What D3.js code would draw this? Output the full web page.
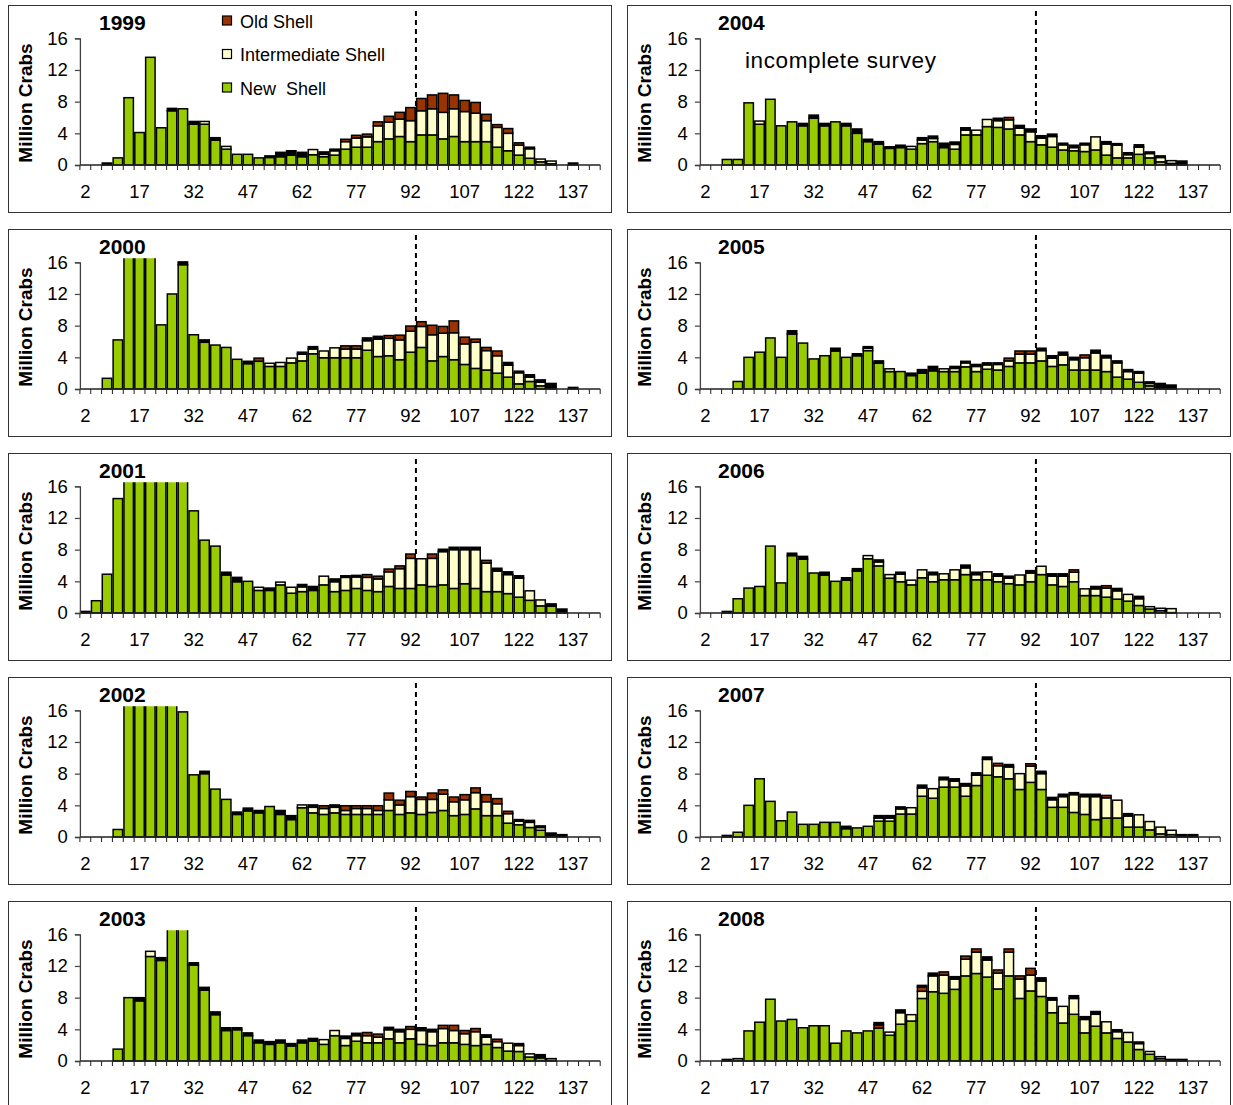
<!DOCTYPE html>
<html>
<head>
<meta charset="utf-8">
<script src="https://cdn.jsdelivr.net/npm/d3@7"></script>
<style>
  body { margin: 0; background: #fff; }
  svg { display: block; font-family: "Liberation Sans", Arial, sans-serif; }
</style>
</head>
<body>
<svg id="chart" width="1233" height="1105"></svg>
<script>
// Carapace-width classes (mm) and the labelled classes on the x axis
const sizeClasses = [2,5,8,11,14,17,20,23,26,29,32,35,38,41,44,47,50,53,56,59,62,65,68,71,74,77,80,83,86,89,92,95,98,101,104,107,110,113,116,119,122,125,128,131,134,137,140,143];
const sizeLabels = [2,17,32,47,62,77,92,107,122,137];
const yTicks = [0,4,8,12,16];
const yearsLeft = [1999,2000,2001,2002,2003];
const yearsRight = [2004,2005,2006,2007,2008];
const legalSize = 95;   // dashed reference line sits at the lower edge of this class

// Abundance (million crabs) by shell condition, one value per size class
const newShell1999 = [0,0,0,0.9,8.5,4.1,13.6,4.7,6.85,7.1, 5.15,5.15,3.15,2.0,1.35,1.35,0.9,0.95,1.05,1.25, 1.05,1.3,1.05,1.25,2.0,2.25,2.25,2.95,3.3,3.6, 2.95,3.8,3.8,3.3,3.6,2.95,2.95,2.95,2.25,1.8, 1.25,0.85,0.4,0.15,0,0,0,0];
const interShell1999 = [0,0,0,0,0,0,0,0,0,0, 0,0.35,0,0.35,0,0,0,0,0,0, 0,0.65,0.3,0.55,0.95,1.15,1.3,2.0,2.1,2.2, 2.65,3.05,3.3,3.35,3.5,3.8,3.6,2.65,2.5,2.2, 1.25,1.2,0.35,0.35,0,0,0,0];
const oldShell1999 = [0,0,0,0,0,0,0,0,0,0, 0,0,0,0,0,0,0,0,0,0, 0,0,0,0,0.3,0.35,0.35,0.5,0.75,0.85, 1.65,1.55,1.75,2.4,1.75,1.4,1.35,0.8,0.35,0.6, 0.3,0,0,0,0,0,0,0];
const veryOld1999 = [0,0,0.25,0,0,0,0,0,0.3,0, 0.35,0,0.3,0,0,0,0,0.2,0.55,0.55, 0.55,0,0.3,0.2,0,0,0,0,0,0, 0,0,0,0,0,0,0,0,0,0, 0,0.2,0,0,0,0.25,0,0];

const newShell2000 = [0,0,1.35,6.2,19,22,20,8.1,12.0,15.7, 6.85,5.9,5.55,5.25,3.75,3.2,3.5,2.85,2.85,3.3, 3.55,4.45,3.95,3.95,3.95,3.95,4.9,4.1,4.2,3.7, 4.65,5.25,3.55,4.1,3.7,3.1,2.6,2.4,2.0,1.5, 0.65,0.95,0.4,0,0,0,0,0];
const interShell2000 = [0,0,0,0,0,0,0,0,0,0, 0,0,0,0,0,0,0,0.4,0.5,0.6, 0.85,0.6,0.85,1.25,1.1,1.1,1.2,2.2,2.2,2.5, 2.65,2.65,3.3,2.95,3.4,2.6,3.3,2.45,2.2,1.5, 1.4,0.55,0.45,0,0,0,0,0];
const oldShell2000 = [0,0,0,0,0,0,0,0,0,0, 0,0,0,0,0,0,0.4,0,0,0, 0,0,0,0,0.4,0.4,0,0,0.35,0.6, 0.65,0.6,1.2,0.85,1.5,0.85,0.4,0.4,0.6,0, 0,0,0,0,0,0,0,0];
const veryOld2000 = [0,0,0,0,0,0,0,0,0,0.35, 0,0.3,0,0,0,0.3,0,0,0,0, 0.25,0.3,0,0,0,0,0.35,0.35,0,0, 0,0,0,0,0,0,0,0,0,0.35, 0.2,0.3,0.3,0.7,0,0.2,0,0];

const newShell2001 = [0,1.55,4.9,14.45,20,23,25,24,21,18, 12.9,9.2,8.45,4.8,3.95,4.0,2.85,2.85,3.55,2.5, 2.7,2.85,3.55,2.7,2.85,3.1,2.85,2.7,3.35,3.1, 3.1,3.55,3.35,3.55,3.1,3.7,3.1,2.7,2.7,2.45, 2.0,1.6,0.9,0.85,0,0,0,0];
const interShell2001 = [0,0,0,0,0,0,0,0,0,0, 0,0,0,0,0,0,0.4,0,0.35,0.75, 0.6,0,1.1,1.25,1.65,1.45,1.65,1.6,1.85,2.5, 3.8,3.3,3.55,4.2,4.9,4.3,4.9,3.6,2.6,2.4, 2.4,1.2,0.75,0,0,0,0,0];
const oldShell2001 = [0,0,0,0,0,0,0,0,0,0, 0,0,0,0,0,0,0,0,0,0, 0,0,0,0,0,0,0.35,0.35,0.35,0.35, 0.55,0,0.55,0,0,0,0,0.35,0,0, 0,0,0,0,0,0,0,0];
const veryOld2001 = [0.2,0,0,0,0,0,0,0,0,0, 0,0,0,0.35,0.55,0,0,0.3,0,0, 0.3,0.5,0,0.35,0.2,0.2,0,0,0,0, 0,0,0,0.3,0.3,0.3,0.3,0,0.35,0.35, 0.3,0,0,0.3,0.5,0,0,0];

const newShell2002 = [0,0,0,0.95,24,30,28,22,18,15.8, 7.85,8.0,6.05,4.75,2.85,3.3,3.05,3.85,2.85,2.2, 3.7,3.05,2.85,3.05,2.85,2.85,2.85,2.85,3.35,2.85, 3.05,2.85,3.1,3.35,2.7,2.85,3.55,2.7,2.7,1.75, 1.55,1.2,0.85,0,0,0,0,0];
const interShell2002 = [0,0,0,0,0,0,0,0,0,0, 0,0,0,0,0,0,0,0,0,0, 0.35,0.7,0.75,0.7,0.5,0.75,0.75,0.5,1.35,1.2, 2.05,1.9,1.65,2.05,1.75,1.85,2.05,1.75,1.5,1.2, 0.45,0.65,0.35,0,0,0,0,0];
const oldShell2002 = [0,0,0,0,0,0,0,0,0,0, 0,0,0,0,0,0,0,0,0,0, 0,0,0.35,0,0.6,0.35,0.35,0.6,0.85,0.6, 0.65,0.3,0.8,0.55,0.6,0.65,0.6,0.9,0.65,0.3, 0,0,0,0,0,0,0,0];
const veryOld2002 = [0,0,0,0,0,0,0,0,0,0, 0,0.3,0,0,0.3,0.35,0.3,0,0.5,0.5, 0,0.3,0,0.3,0,0,0,0,0,0, 0,0,0,0,0,0,0,0,0,0, 0.2,0.25,0.2,0.5,0.3,0,0,0];

const newShell2003 = [0,0,0,1.5,8.0,7.6,13.2,12.7,19,17.5, 12.1,8.95,5.85,3.85,3.95,3.2,2.3,2.1,2.3,1.9, 2.3,2.5,2.1,3.2,1.95,2.5,2.3,2.3,2.8,2.3, 2.8,2.1,1.95,2.3,2.3,2.1,1.95,2.1,1.7,1.25, 1.2,0.5,0.4,0.3,0,0,0,0];
const interShell2003 = [0,0,0,0,0,0,0.65,0,0,0, 0,0,0,0,0,0,0,0,0,0, 0,0,0.6,0.65,0.9,0.7,0.9,0.7,1.15,1.4, 1.2,1.75,1.75,1.8,1.55,1.35,1.75,0.9,0.75,1.0, 0.75,0.4,0,0,0,0,0,0];
const oldShell2003 = [0,0,0,0,0,0,0,0,0,0, 0,0,0,0,0,0,0,0,0,0, 0,0,0,0,0,0,0.4,0.4,0,0, 0.35,0,0,0.4,0.65,0.4,0.4,0,0.3,0, 0,0,0,0,0,0,0,0];
const veryOld2003 = [0,0,0,0,0,0.4,0,0.35,0,0, 0.3,0.35,0.35,0.35,0.25,0.35,0.35,0.35,0.35,0.3, 0.35,0.35,0,0,0.3,0.3,0,0,0.3,0.3, 0,0.35,0.3,0,0,0,0,0.3,0,0, 0.25,0,0.4,0,0,0,0,0];

const newShell2004 = [0,0,0.7,0.7,7.85,5.15,8.3,4.95,5.45,4.95, 5.9,4.95,5.45,4.95,4.0,2.95,2.65,2.1,2.2,2.0, 2.7,2.95,2.2,2.0,3.8,3.8,4.85,4.75,4.55,3.8, 2.95,2.55,2.25,1.9,1.8,1.7,1.9,1.25,0.9,0.9, 1.35,0.9,0.4,0.2,0,0,0,0];
const interShell2004 = [0,0,0,0,0,0.4,0,0,0,0, 0,0,0,0,0,0,0,0,0,0.35, 0.45,0.4,0,0.6,0.6,0.6,0.9,0.85,1.15,0.85, 1.25,0.85,1.35,0.65,0.4,0.85,1.65,1.4,1.6,0.4, 0.9,0.55,0.55,0.35,0,0,0,0];
const oldShell2004 = [0,0,0,0,0,0,0,0,0,0, 0,0,0,0,0,0,0,0,0,0, 0,0,0,0,0,0,0,0,0.3,0, 0,0,0,0,0,0,0,0,0,0, 0,0,0,0,0,0,0,0];
const veryOld2004 = [0,0,0,0,0,0,0,0,0,0.3, 0.4,0.3,0,0.3,0.55,0.3,0.3,0.2,0.3,0, 0.3,0.3,0.55,0.3,0.3,0,0,0.3,0,0.35, 0.35,0.3,0.3,0.2,0.3,0.2,0,0.3,0.2,0.25, 0.3,0.2,0.2,0,0.5,0,0,0];

const newShell2005 = [0,0,0,0.95,4.0,4.65,6.45,4.0,6.95,5.8, 3.8,4.2,4.8,4.0,4.2,4.85,3.25,2.2,2.2,1.7, 2.0,2.3,2.2,2.2,2.8,2.2,2.5,2.4,2.85,3.3, 3.3,3.55,2.85,3.05,2.4,2.4,2.4,2.2,1.5,1.25, 0.85,0.4,0,0,0,0,0,0];
const interShell2005 = [0,0,0,0,0,0,0,0,0,0, 0,0,0,0,0,0.3,0,0.35,0,0, 0,0,0.35,0.4,0.5,0.65,0.55,0.7,0.7,1.1, 1.1,1.3,1.05,1.25,1.3,1.55,2.15,1.75,1.8,0.95, 1.15,0.3,0,0,0,0,0,0];
const oldShell2005 = [0,0,0,0,0,0,0,0,0,0, 0,0,0,0,0,0,0,0,0,0, 0,0,0,0,0,0,0,0,0.35,0.4, 0.4,0,0,0,0,0.35,0,0,0,0, 0,0,0,0,0,0,0,0];
const veryOld2005 = [0,0,0,0,0,0,0,0,0.4,0, 0,0,0.35,0,0.25,0.2,0.3,0,0,0.3, 0.45,0.55,0,0.25,0.2,0.25,0.25,0.2,0,0, 0,0.3,0.3,0.35,0.3,0,0.35,0.3,0.25,0.25, 0.2,0.2,0.7,0.5,0,0,0,0];

const newShell2006 = [0,0,0,1.8,3.15,3.35,8.45,3.8,7.25,6.8, 5.05,4.8,4.0,4.15,5.3,6.85,5.95,4.4,3.95,3.55, 4.45,3.95,4.2,4.2,4.85,4.2,4.2,3.95,3.7,3.55, 3.95,4.85,3.55,3.35,3.95,2.2,2.2,2.0,1.75,1.5, 0.95,0.5,0.3,0.05,0,0,0,0];
const interShell2006 = [0,0,0,0,0,0,0,0,0,0, 0,0,0,0,0,0.4,0.5,0.45,0.95,0.6, 1.0,0.9,0.75,1.25,0.85,0.65,1.0,0.7,0.7,1.25, 1.1,1.05,1.1,1.3,1.2,0.85,0.85,1.15,1.05,0.85, 0.85,0.3,0.3,0.5,0,0,0,0];
const oldShell2006 = [0,0,0,0,0,0,0,0,0,0, 0,0,0,0,0,0,0,0,0,0, 0,0,0,0,0,0,0,0,0,0, 0,0,0,0,0.3,0,0,0.3,0,0, 0,0,0,0,0,0,0,0];
const veryOld2006 = [0,0,0.2,0,0,0,0,0,0.3,0.35, 0,0.35,0,0.3,0.3,0,0.25,0,0.25,0, 0,0.3,0,0,0.35,0.3,0,0.3,0.25,0, 0.3,0,0.3,0.3,0,0,0.3,0,0.3,0, 0.3,0,0,0,0,0,0,0];

const newShell2007 = [0,0,0,0.6,4.0,7.35,4.5,2.05,3.15,1.6, 1.6,1.85,1.85,1.05,1.15,1.35,2.0,2.0,2.9,2.9, 5.15,4.9,6.3,6.3,5.15,6.5,7.8,7.6,7.35,6.0, 6.9,6.0,3.75,3.75,3.1,2.85,2.2,2.4,2.4,1.25, 1.25,0.9,0.4,0.3,0,0,0,0];
const interShell2007 = [0,0,0,0,0,0,0,0,0,0, 0,0,0,0,0,0,0.4,0.4,0.65,0.8, 1.05,1.2,0.95,0.75,1.3,1.3,2.0,1.4,1.5,2.0, 2.05,2.0,0.95,1.35,2.25,2.25,2.9,2.55,2.25,1.4, 1.55,1.05,0.85,0.55,0,0,0,0];
const oldShell2007 = [0,0,0,0,0,0,0,0,0,0, 0,0,0,0,0,0,0,0,0,0, 0,0,0,0,0,0,0,0.3,0,0, 0.3,0,0,0,0,0,0,0.3,0,0, 0,0,0,0,0,0,0,0];
const veryOld2007 = [0,0,0.2,0,0,0,0,0,0,0, 0,0,0,0.3,0,0,0.3,0.3,0.25,0, 0.35,0,0.3,0.3,0.3,0.3,0.3,0,0.3,0, 0,0.3,0.3,0.3,0.25,0.3,0.3,0,0,0.3, 0,0,0,0,0.3,0.3,0,0];

const newShell2008 = [0,0,0,0.3,3.8,4.9,7.8,5.05,5.25,4.2, 4.45,4.45,2.25,3.8,3.55,3.8,4.15,3.25,4.65,5.05, 7.9,8.75,8.55,9.05,10.75,11.05,10.6,9.1,10.75,7.9, 8.85,8.15,6.1,4.8,5.9,3.55,4.4,3.55,2.85,2.4, 1.45,0.85,0.3,0,0,0,0,0];
const interShell2008 = [0,0,0,0,0,0,0,0,0,0, 0,0,0,0,0,0,0,0.4,1.45,0.8, 0.9,2.0,2.3,1.3,2.1,2.7,2.15,2.0,3.0,2.45, 2.0,1.95,1.6,2.1,2.0,1.7,1.5,1.4,0.85,1.2, 0.75,0.35,0.25,0,0,0,0,0];
const oldShell2008 = [0,0,0,0,0,0,0,0,0,0, 0,0,0,0,0,0,0.4,0,0,0, 0.55,0,0.4,0,0.4,0.4,0,0.4,0.4,0.4, 0.85,0,0,0,0,0,0,0,0,0, 0,0,0,0,0,0,0,0];
const veryOld2008 = [0,0,0.2,0,0,0,0,0,0,0, 0,0,0,0,0,0,0.3,0,0.35,0, 0.2,0.35,0,0.3,0,0,0.4,0,0,0, 0,0.4,0.3,0,0.35,0.35,0.35,0,0.25,0, 0.2,0,0,0.2,0.2,0,0,0];

// Lookup of the arrays above by year
const byYear = {
  1999: [newShell1999, interShell1999, oldShell1999, veryOld1999],
  2000: [newShell2000, interShell2000, oldShell2000, veryOld2000],
  2001: [newShell2001, interShell2001, oldShell2001, veryOld2001],
  2002: [newShell2002, interShell2002, oldShell2002, veryOld2002],
  2003: [newShell2003, interShell2003, oldShell2003, veryOld2003],
  2004: [newShell2004, interShell2004, oldShell2004, veryOld2004],
  2005: [newShell2005, interShell2005, oldShell2005, veryOld2005],
  2006: [newShell2006, interShell2006, oldShell2006, veryOld2006],
  2007: [newShell2007, interShell2007, oldShell2007, veryOld2007],
  2008: [newShell2008, interShell2008, oldShell2008, veryOld2008]
};

const keys = ["newShell", "interShell", "oldShell", "veryOld"];
const fills = { newShell: "#99CC00", interShell: "#FFFFCC", oldShell: "#993300", veryOld: "#000000" };
const legendItems = [["oldShell", "Old Shell"], ["interShell", "Intermediate Shell"], ["newShell", "New  Shell"]];

const svg = d3.select("#chart");

// Panel geometry
const colLeft = [8, 627];
const boxW = 603, boxH = 207, rowStep = 224, firstTop = 5;
const plotOffsetX = [71.9, 72.9];
const plotW = 520.3;

function drawPanel(year, col, row) {
  const left = colLeft[col];
  const top = firstTop + rowStep * row;
  const g = svg.append("g");

  g.append("rect")
    .attr("x", left + 0.5).attr("y", top + 0.5)
    .attr("width", boxW).attr("height", boxH)
    .attr("fill", "#fff").attr("stroke", "#333").attr("stroke-width", 1);

  const x0 = left + plotOffsetX[col];
  const x = d3.scaleBand().domain(sizeClasses).range([x0, x0 + plotW]).paddingInner(0.13).paddingOuter(0.065);
  const y = d3.scaleLinear().domain([0, 16]).range([top + 160, top + 33.3]);
  const step = x.step();
  const edge = d => x(d) - step * x.paddingInner() / 2;

  const clipId = "clip" + year;
  g.append("clipPath").attr("id", clipId).append("rect")
    .attr("x", x0 - 2).attr("y", y(16.5))
    .attr("width", plotW + 4).attr("height", y(0) - y(16.5) + 2);

  // stacked bars
  const arrs = byYear[year];
  const rows = sizeClasses.map((s, i) => {
    const r = { size: s };
    keys.forEach((k, j) => r[k] = arrs[j][i]);
    return r;
  });
  const stacked = d3.stack().keys(keys)(rows);
  const barLayer = g.append("g").attr("clip-path", `url(#${clipId})`);
  stacked.forEach(layer => {
    barLayer.append("g").selectAll("rect")
      .data(layer.filter(d => d[1] - d[0] > 0))
      .join("rect")
      .attr("x", d => x(d.data.size))
      .attr("width", x.bandwidth())
      .attr("y", d => y(d[1]))
      .attr("height", d => y(d[0]) - y(d[1]))
      .attr("fill", fills[layer.key])
      .attr("stroke", "#000")
      .attr("stroke-width", 1.5);
  });

  // x axis: line, boundary ticks, labels every fifth class
  const axisY = y(0);
  g.append("line").attr("x1", x0).attr("x2", x0 + plotW).attr("y1", axisY).attr("y2", axisY)
    .attr("stroke", "#202020").attr("stroke-width", 1.3);
  const boundaries = sizeClasses.map(edge).concat([x0 + plotW]);
  g.append("g").selectAll("line").data(boundaries).join("line")
    .attr("x1", d => d).attr("x2", d => d)
    .attr("y1", axisY).attr("y2", axisY + 5)
    .attr("stroke", "#202020").attr("stroke-width", 1);
  const xAxis = d3.axisBottom(x).tickValues(sizeLabels).tickSize(0).tickPadding(0);
  const xg = g.append("g").attr("transform", `translate(0,${axisY})`).call(xAxis);
  xg.select(".domain").remove();
  xg.selectAll("text").attr("dy", null).attr("y", 33)
    .attr("font-size", 18.5).attr("fill", "#000").attr("font-family", "Liberation Sans, Arial, sans-serif");

  // y axis
  const yAxis = d3.axisLeft(y).tickValues(yTicks).tickSize(5).tickPadding(7);
  const yg = g.append("g").attr("transform", `translate(${x0},0)`).call(yAxis);
  yg.select(".domain").attr("stroke", "#404040").attr("stroke-width", 1.3);
  yg.selectAll(".tick line").attr("stroke", "#404040").attr("stroke-width", 1.2);
  yg.selectAll("text").attr("font-size", 18.5).attr("fill", "#000")
    .attr("font-family", "Liberation Sans, Arial, sans-serif");

  // dashed reference line
  const lx = edge(legalSize);
  g.append("line").attr("x1", lx).attr("x2", lx)
    .attr("y1", top + 6).attr("y2", axisY)
    .attr("stroke", "#000").attr("stroke-width", 2).attr("stroke-dasharray", "5,4");

  // year title and axis title
  g.append("text").attr("x", left + 91).attr("y", top + 25)
    .attr("font-size", 21).attr("font-weight", "bold").text(year);
  g.append("text")
    .attr("transform", `translate(${left + 23.5},${top + 98}) rotate(-90)`)
    .attr("text-anchor", "middle").attr("font-size", 19).attr("font-weight", "bold")
    .text("Million Crabs");

  return g;
}

yearsLeft.forEach((yr, r) => drawPanel(yr, 0, r));
yearsRight.forEach((yr, r) => drawPanel(yr, 1, r));

// legend in the first panel
const legend = svg.append("g");
legendItems.forEach(([k, label], i) => {
  const cy = 21 + i * 33.5;
  legend.append("rect").attr("x", 222.5).attr("y", cy - 5).attr("width", 9).attr("height", 9)
    .attr("fill", fills[k]).attr("stroke", "#000").attr("stroke-width", 1.2);
  legend.append("text").attr("x", 240).attr("y", cy + 6.5)
    .attr("font-size", 18).attr("fill", "#000").style("white-space", "pre").text(label);
});

// note in the 2004 panel
svg.append("text").attr("x", 745).attr("y", 68)
  .attr("font-size", 22.5).attr("letter-spacing", 0.6).attr("fill", "#000").text("incomplete survey");
</script>
</body>
</html>
